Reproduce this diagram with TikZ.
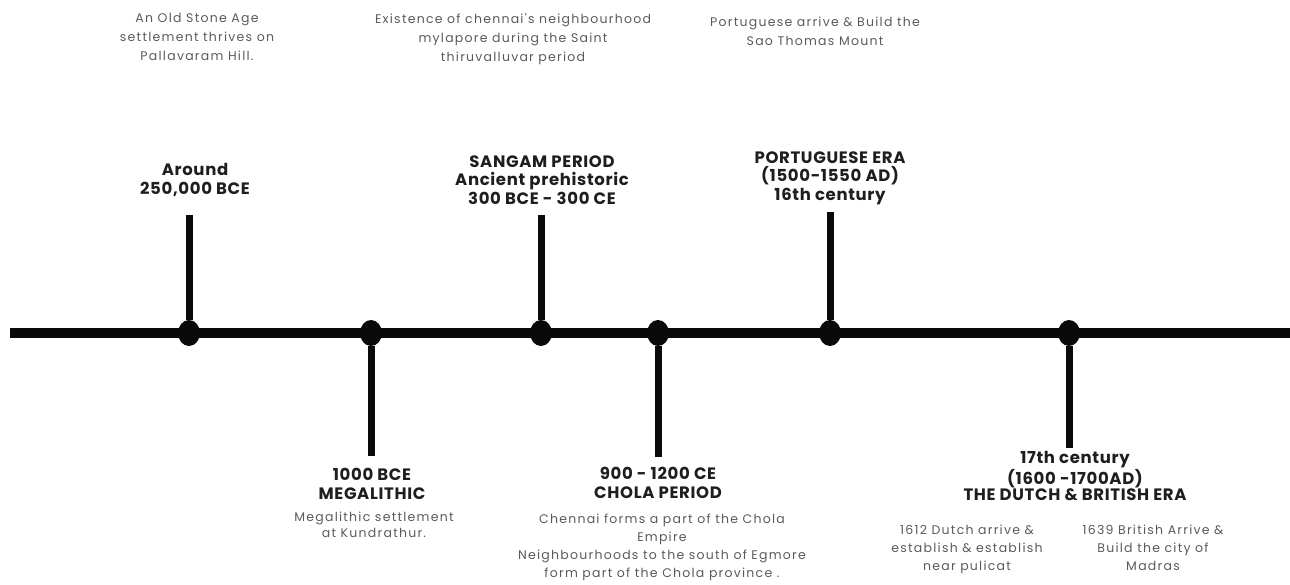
\documentclass[tikz,border=0pt]{standalone}
\usepackage{fontspec}
\setmainfont{Poppins}
\usepackage{tikz}
\usetikzlibrary{positioning,shapes.geometric}
\definecolor{ink}     {HTML}{0A0A0A}
\definecolor{softink} {HTML}{5A5A5A}
\definecolor{boldink} {HTML}{1E1E1E}
\newfontfamily\erafont[LetterSpace=4]{Poppins}
\newfontfamily\notefont[LetterSpace=10]{Poppins}
\tikzset{
  % --- shapes
  axis/.style  = {draw=ink, line width=10pt},
  stem/.style  = {draw=ink, line width=7pt},
  dot/.style   = {ellipse, fill=ink, inner sep=0pt, minimum width=22pt, minimum height=26pt},
  % --- texts
  era/.style   = {font=\erafont\bfseries\fontsize{16.5}{18.5}\selectfont, align=center, text=boldink, inner sep=0pt},
  note/.style  = {font=\notefont\fontsize{12.5}{19}\selectfont, align=center, text=softink, inner sep=0pt},
}
\begin{document}
\begin{tikzpicture}[x=1pt,y=-1pt]
  \useasboundingbox (0,0) rectangle (1290,584);
  % --- timeline
  \coordinate (start) at (10,333);
  \coordinate (end) at (1290,333);
  \draw[axis] (start) -- (end);
  \node[dot] (stone)  at (189,333) {};
  \node[dot] (mega)   at (371,333) {};
  \node[dot] (sangam) at (541,333) {};
  \node[dot] (chola)  at (658,333) {};
  \node[dot] (portu)  at (830,333) {};
  \node[dot] (dutch)  at (1069,333) {};
  \coordinate (stoneT)  at (189,215);
  \coordinate (sangamT) at (541,215);
  \coordinate (portuT)  at (830,212);
  \coordinate (megaB)   at (371,456);
  \coordinate (cholaB)  at (658,457);
  \coordinate (dutchB)  at (1069,448);
  \draw[stem] (stone) -- (stoneT);
  \draw[stem] (sangam) -- (sangamT);
  \draw[stem] (portu) -- (portuT);
  \draw[stem] (mega) -- (megaB);
  \draw[stem] (chola) -- (cholaB);
  \draw[stem] (dutch) -- (dutchB);
  % --- eras above
  \node[era] (stoneL)  at (195,180) {Around\\250,000 BCE};
  \node[era] (sangamL) at (542,180) {SANGAM PERIOD\\Ancient prehistoric\\300 BCE - 300 CE};
  \node[era] (portuL)  at (830,178) {PORTUGUESE ERA\\(1500-1550 AD)\\16th century};
  % --- eras below
  \node[era] (megaL)   at (372,484) {1000 BCE\\MEGALITHIC};
  \node[era] (cholaL)  at (658,483) {900 - 1200 CE\\CHOLA PERIOD};
  \node[era, font=\erafont\bfseries\fontsize{16.5}{14.5}\selectfont] (dutchL) at (1075,476)
    {17th century\\(1600 -1700AD)\\THE DUTCH \& BRITISH ERA};
  % --- notes
  \node[note] (stoneN)  at (197,37) {An Old Stone Age\\settlement thrives on\\Pallavaram Hill.};
  \node[note] (sangamN) at (513,39) {Existence of chennai's neighbourhood\\mylapore during the Saint\\thiruvalluvar period};
  \node[note] (portuN)  at (815,31) {Portuguese arrive \& Build the\\Sao Thomas Mount};
  \node[note, font=\notefont\fontsize{12.5}{16}\selectfont] (megaN) at (374,525) {Megalithic settlement\\at Kundrathur.};
  \node[note, font=\notefont\fontsize{12.5}{18}\selectfont] (cholaN) at (662,547)
    {Chennai forms a part of the Chola\\Empire\\Neighbourhoods to the south of Egmore\\form part of the Chola province .};
  \node[note, font=\notefont\fontsize{12.5}{18}\selectfont] (dutchN)  at (967,549) {1612 Dutch arrive \&\\establish \& establish\\near pulicat};
  \node[note, font=\notefont\fontsize{12.5}{18}\selectfont] (britN)   at (1153,548) {1639 British Arrive \&\\Build the city of\\Madras};
\end{tikzpicture}
\end{document}
